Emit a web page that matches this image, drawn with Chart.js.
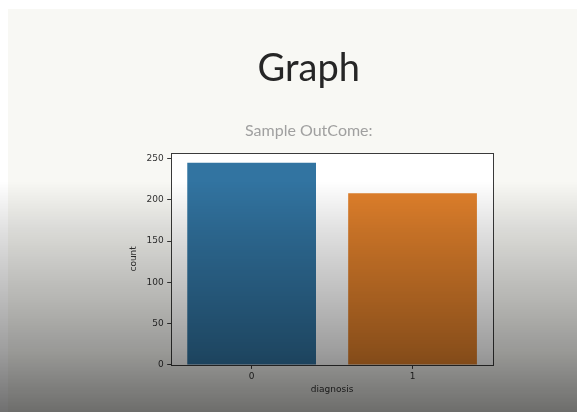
<!DOCTYPE html>
<html>
<head>
<meta charset="utf-8">
<script src="https://cdn.jsdelivr.net/npm/chart.js@4"></script>
<style>
  html, body { margin: 0; padding: 0; background: #fff; }
  #slide { position: absolute; left: 8px; top: 9px; width: 569px; height: 403px; background: #f8f8f4; }
  #myChart { position: absolute; left: 0; top: 0; }
  #shade {
    position: absolute; left: 0; top: 0; width: 577px; height: 412px; pointer-events: none;
    background: linear-gradient(to bottom, rgba(0,0,0,0) 44%, rgba(0,0,0,0.12) 56%, rgba(0,0,0,0.27) 73%, rgba(0,0,0,0.38) 85%, rgba(0,0,0,0.56) 100%);
  }
</style>
</head>
<body>
<div id="slide"></div>
<canvas id="myChart" width="577" height="412"></canvas>
<div id="shade"></div>
<script>
// valores
const diagnosis = ["0", "1"];
const counts = [245, 208];
const barColors = ["#3274a1", "#e1812c"];
const yTicks = [0, 50, 100, 150, 200, 250];

Chart.defaults.font.family = "'DejaVu Sans', sans-serif";
Chart.defaults.color = "#333";

// fondo blanco y marco del area de dibujo
const marco = {
  id: "marco",
  beforeDraw(chart) {
    const { ctx, chartArea: a } = chart;
    ctx.save();
    ctx.fillStyle = "#ffffff";
    ctx.fillRect(a.left, a.top, a.width, a.height);
    ctx.restore();
  },
  afterDatasetsDraw(chart) {
    const { ctx, chartArea: a } = chart;
    ctx.save();
    ctx.strokeStyle = "#3a3a3a";
    ctx.lineWidth = 1;
    ctx.strokeRect(Math.round(a.left) + 0.5, Math.round(a.top) + 0.5, Math.round(a.width), Math.round(a.height));
    ctx.restore();
  },
};

var ctx = document.getElementById("myChart");

new Chart(ctx, {
  type: "bar",
  data: {
    labels: diagnosis,
    datasets: [
      {
        label: "count",
        data: counts,
        backgroundColor: barColors,
        borderWidth: 0,
        categoryPercentage: 0.8,
        barPercentage: 1,
      },
    ],
  },
  options: {
    responsive: false,
    animation: false,
    layout: { padding: { left: 124.6, right: 84, top: 0, bottom: 12.5 } },
    plugins: {
      legend: { display: false },
      tooltip: { enabled: false },
      title: {
        display: true,
        text: "Graph",
        color: "#262626",
        font: { family: "Lato", size: 38, weight: "normal" },
        padding: { top: 46, bottom: 30 },
      },
      subtitle: {
        display: true,
        text: "Sample OutCome:",
        color: "#a0a0a0",
        font: { family: "Lato", size: 16, weight: "normal" },
        padding: { top: 0, bottom: 12 },
      },
    },
    scales: {
      x: {
        offset: true,
        border: { display: false },
        grid: { offset: false, drawOnChartArea: false, drawTicks: true, tickLength: 4, color: "#3a3a3a" },
        ticks: { padding: 2.5, font: { size: 9 }, color: "#333" },
        title: { display: true, text: "diagnosis", font: { size: 9 }, color: "#333", padding: { top: 0, bottom: 4 } },
      },
      y: {
        min: 0,
        max: 257,
        border: { display: false },
        grid: { drawOnChartArea: false, drawTicks: true, tickLength: 4, color: "#3a3a3a" },
        ticks: { padding: 3.5, font: { size: 9 }, color: "#333", includeBounds: false },
        afterBuildTicks: (axis) => {
          axis.ticks = yTicks.map((v) => ({ value: v }));
        },
        title: { display: true, text: "count", font: { size: 9 }, color: "#333", padding: { top: 4, bottom: 3.6 } },
      },
    },
  },
  plugins: [marco],
});
</script>
</body>
</html>
